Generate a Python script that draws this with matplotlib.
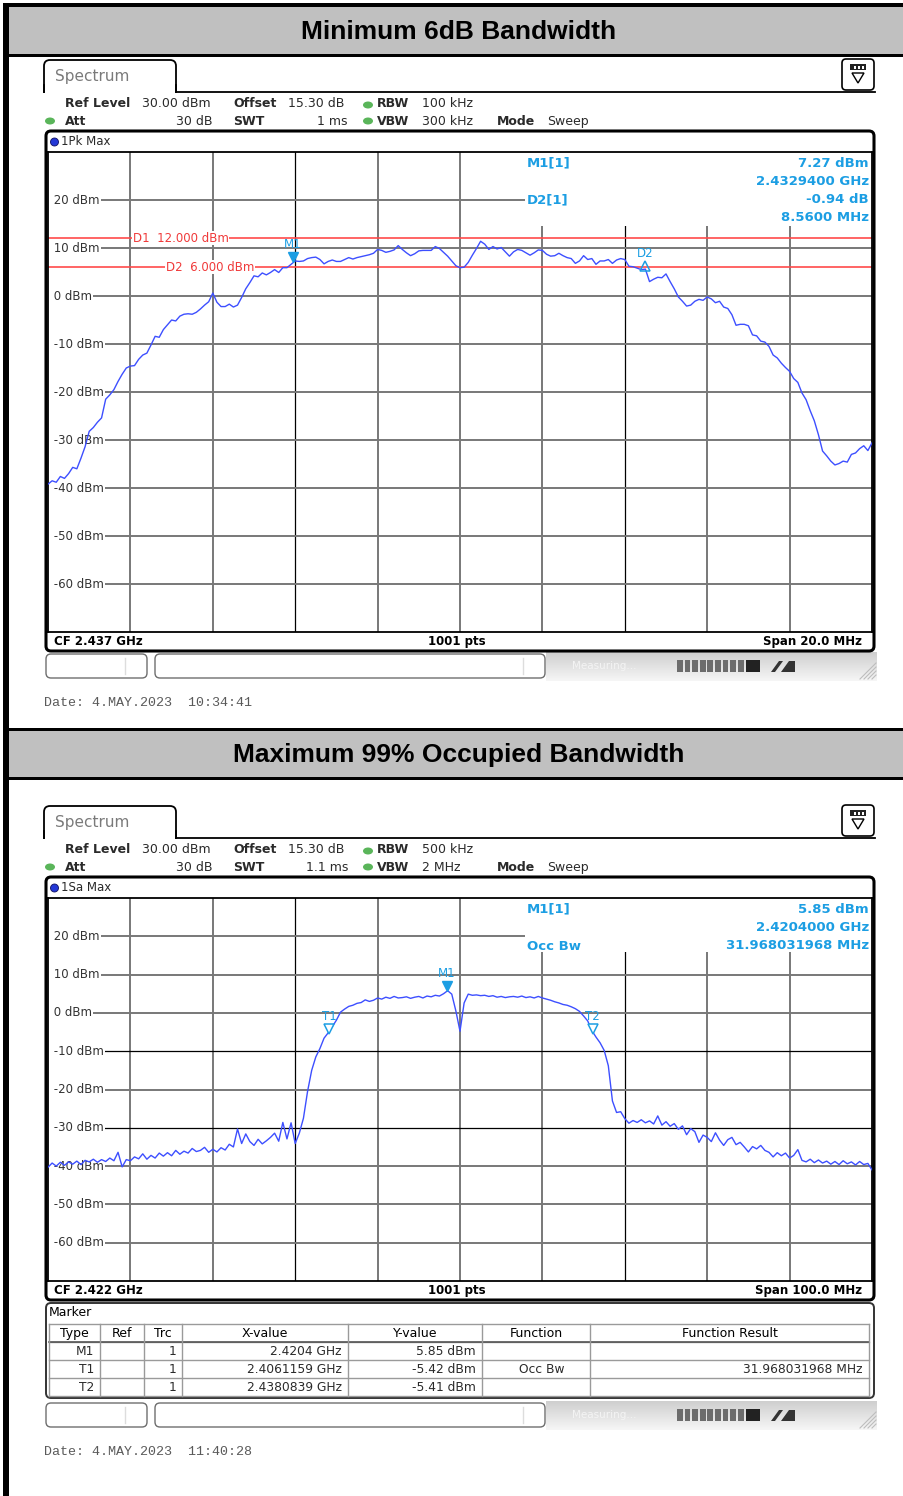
import numpy as np
import matplotlib
matplotlib.use("Agg")
import matplotlib.pyplot as plt
from matplotlib.patches import Rectangle, FancyBboxPatch, Ellipse, Polygon
from matplotlib.colors import LinearSegmentedColormap
from matplotlib.transforms import offset_copy, blended_transform_factory

# =============================================================================
# DATA
# =============================================================================

TITLES = ["Minimum 6dB Bandwidth", "Maximum 99% Occupied Bandwidth"]
Y_TICKS = [20, 10, 0, -10, -20, -30, -40, -50, -60]
REF_LEVEL = 30
BOTTOM_LEVEL = -70

# plot 1: CF 2.437 GHz, span 20 MHz, trace levels every 0.1 MHz
SPAN1_MHZ = 20.0
TRACE1_DBM = [
    -39.2, -38.5, -38.8, -37.6, -38.0, -37.0, -35.7, -36.0, -33.8, -31.4,
    -28.2, -27.4, -26.3, -25.4, -21.5, -20.6, -19.5, -17.8, -16.3, -15.0,
    -14.6, -14.5, -13.2, -12.3, -11.9, -10.2, -8.4, -8.6, -7.0, -6.0,
    -5.0, -5.2, -4.2, -3.8, -3.7, -3.8, -3.4, -2.7, -1.9, -1.2,
    0.6, -1.3, -2.2, -2.2, -1.7, -2.3, -1.9, -0.3, 1.5, 2.8,
    4.2, 4.0, 4.8, 4.4, 4.9, 5.5, 4.9, 5.9, 5.9, 6.6,
    7.3, 7.2, 7.3, 7.8, 8.0, 8.1, 7.6, 6.7, 7.2, 7.5,
    7.2, 7.2, 7.6, 8.0, 7.7, 8.0, 8.2, 8.4, 8.6, 8.9,
    9.7, 9.5, 9.1, 9.3, 9.6, 10.5, 9.7, 9.0, 8.4, 8.8,
    9.4, 9.5, 9.5, 9.5, 10.3, 9.9, 9.1, 8.3, 7.3, 6.3,
    5.9, 6.0, 7.0, 8.5, 9.9, 11.4, 10.8, 9.7, 10.3, 9.8,
    10.1, 9.2, 8.3, 9.2, 9.7, 9.5, 9.0, 8.5, 9.0, 9.6,
    9.5, 8.7, 8.3, 8.4, 8.9, 8.4, 8.0, 7.8, 6.8, 7.3,
    8.4, 7.6, 7.8, 6.6, 7.3, 7.3, 7.6, 6.8, 7.5, 7.8,
    7.6, 6.2, 6.1, 5.8, 5.5, 5.6, 3.0, 3.5, 3.9, 3.8,
    4.6, 3.0, 1.5, -0.2, -1.1, -2.1, -1.9, -1.1, -0.7, -0.9,
    -0.2, -0.6, -1.4, -1.1, -2.3, -2.6, -3.9, -6.1, -5.9, -5.9,
    -6.2, -8.1, -8.3, -9.4, -9.6, -10.5, -12.3, -12.9, -14.0, -14.9,
    -15.7, -17.2, -18.0, -20.2, -21.6, -23.9, -26.0, -28.9, -32.3, -33.3,
    -34.4, -35.2, -34.9, -34.4, -34.6, -33.0, -32.7, -31.8, -31.2, -32.2,
    -30.6,
]

# plot 2: CF 2.422 GHz, span 100 MHz, trace levels every 0.5 MHz
SPAN2_MHZ = 100.0
TRACE2_DBM = [
    -40.3, -39.2, -40.0, -39.0, -39.8, -38.9, -39.5, -38.7, -39.6, -38.5,
    -38.9, -38.2, -39.0, -38.3, -38.8, -37.9, -38.6, -36.4, -40.2, -38.3,
    -38.6, -37.6, -38.1, -36.8, -38.2, -37.2, -37.9, -36.6, -37.4, -36.5,
    -37.3, -35.9, -36.9, -36.1, -36.6, -35.4, -36.2, -35.9, -35.1, -36.4,
    -35.6, -36.3, -35.2, -35.8, -34.3, -35.0, -30.3, -34.1, -31.6, -33.6,
    -34.6, -33.0, -34.2, -33.4, -32.5, -31.4, -33.5, -28.6, -32.9, -28.7,
    -34.1, -31.4, -27.5, -20.5, -15.0, -11.5, -9.3, -6.6, -5.2, -3.6,
    -1.9, 0.2, 1.0, 1.7, 2.0, 2.5, 2.7, 3.4, 3.0, 3.3,
    3.9, 3.6, 4.1, 3.8, 4.3, 3.9, 4.0, 4.2, 3.8, 4.1,
    4.3, 3.9, 4.4, 4.2, 4.6, 4.4, 5.0, 5.8, 4.9, 0.5,
    -4.8, 2.6, 4.9, 4.6, 4.7, 4.5, 4.6, 4.3, 4.5, 4.1,
    4.3, 4.0, 4.2, 4.3, 4.1, 4.4, 4.0, 4.2, 3.9, 4.3,
    3.9, 3.6, 3.3, 2.9, 2.6, 2.2, 2.0, 1.6, 1.1, 0.4,
    -0.8, -2.1, -4.6, -6.3, -7.8, -9.8, -13.8, -23.0, -26.0, -25.8,
    -27.6, -28.8, -28.1, -28.6, -27.9, -28.7, -28.2, -29.0, -26.9, -29.3,
    -28.4, -29.6, -28.9, -30.4, -29.5, -31.8, -30.2, -31.0, -33.8, -31.9,
    -32.5, -33.6, -31.3, -33.2, -34.6, -33.1, -32.5, -34.4, -33.8, -35.0,
    -36.3, -34.9, -35.5, -34.6, -35.9, -36.4, -37.6, -36.5, -37.3, -36.6,
    -37.9, -37.2, -35.7, -38.5, -38.9, -38.2, -39.1, -38.4, -39.2, -38.7,
    -39.5, -38.8, -39.6, -38.6, -39.4, -38.9, -39.7, -38.8, -39.6, -39.3,
    -41.0,
]

# display lines of plot 1: (name, level dBm, label start in MHz from span start)
DISPLAY_LINES = [("D1", 12.0, 2.06), ("D2", 6.0, 2.86)]

# markers: (label, MHz from span start, level dBm, style)
MARKERS1 = [("M1", 5.94, 7.27, "v"), ("D2", 14.50, 6.33, "^")]
MARKERS2 = [("M1", 48.40, 5.85, "v"), ("T1", 34.1159, -5.42, "hv"), ("T2", 66.0839, -5.41, "hv")]

INFO1_LEFT = ["M1[1]", "", "D2[1]"]
INFO1_RIGHT = ["7.27 dBm", "2.4329400 GHz", "-0.94 dB", "8.5600 MHz"]
INFO2_LEFT = ["M1[1]", "", "Occ Bw"]
INFO2_RIGHT = ["5.85 dBm", "2.4204000 GHz", "31.968031968 MHz"]

PARAMS1 = {"rbw": "100 kHz", "swt": "1 ms", "vbw": "300 kHz", "trace": "1Pk Max",
           "cf": "CF 2.437 GHz", "span": "Span 20.0 MHz", "date": "Date: 4.MAY.2023  10:34:41"}
PARAMS2 = {"rbw": "500 kHz", "swt": "1.1 ms", "vbw": "2 MHz", "trace": "1Sa Max",
           "cf": "CF 2.422 GHz", "span": "Span 100.0 MHz", "date": "Date: 4.MAY.2023  11:40:28"}

TABLE_HEADER = ["Type", "Ref", "Trc", "X-value", "Y-value", "Function", "Function Result"]
TABLE_ROWS = [
    ["M1", "", "1", "2.4204 GHz", "5.85 dBm", "", ""],
    ["T1", "", "1", "2.4061159 GHz", "-5.42 dBm", "Occ Bw", "31.968031968 MHz"],
    ["T2", "", "1", "2.4380839 GHz", "-5.41 dBm", "", ""],
]

# =============================================================================
# STYLE
# =============================================================================

W, H = 904, 1496
TRACE_BLUE = "#3d4fff"
MARKER_BLUE = "#1c9ee3"
LINE_RED = "#ff4a4a"
GRID_GRAY = "#787878"
TEXT_DARK = "#2a2a2a"
GREEN = "#5ab55a"

fig = plt.figure(figsize=(W / 100, H / 100), dpi=100)
bg = fig.add_axes([0, 0, 1, 1])
bg.axis("off")

# overlay for text above the trace areas
ov = fig.add_axes([0, 0, 1, 1])
ov.patch.set_alpha(0)
ov.axis("off")
ov.set_xlim(0, W)
ov.set_ylim(H, 0)
ov.set_zorder(10)


def txt(ax, x, y, s, **kw):
    kw.setdefault("fontsize", 9)
    kw.setdefault("color", TEXT_DARK)
    kw.setdefault("va", "center")
    ax.text(x, y, s, **kw)


def rbox(ax, x0, y0, x1, y1, r=5, **kw):
    ax.add_patch(FancyBboxPatch((x0, y0), x1 - x0, y1 - y0,
                                boxstyle=f"round,pad=0,rounding_size={r}", **kw))


# =============================================================================
# PAGE FRAME AND TITLE BANDS
# =============================================================================

def draw_band(y0, y1, title):
    bg.add_patch(Rectangle((9, y0), W - 9, y1 - y0, fc="#c0c0c0", ec="none"))
    bg.add_patch(Rectangle((3, y1), W - 3, 3, fc="black", ec="none"))
    txt(bg, 459, (y0 + y1) / 2 + 1, title, ha="center", fontsize=19,
        fontweight="bold", family="Liberation Sans", color="black")


bg.add_patch(Rectangle((3, 3), W - 3, 4, fc="black", ec="none"))
bg.add_patch(Rectangle((3, 3), 6, H - 3, fc="black", ec="none"))
draw_band(7, 54, TITLES[0])
bg.add_patch(Rectangle((3, 728), W - 3, 3, fc="black", ec="none"))
draw_band(731, 777, TITLES[1])


# =============================================================================
# ONE ANALYZER SCREEN
# =============================================================================

def draw_header(base, p):
    # Spectrum tab + line
    rbox(bg, 44, 60 + base, 176, 100 + base, r=6, fc="white", ec="black", lw=1.3)
    bg.add_patch(Rectangle((42, 93 + base), 140, 10, fc="white", ec="none", zorder=2))
    bg.plot([176, 875], [92 + base, 92 + base], color="black", lw=1.3, zorder=3)
    bg.plot([44, 44], [85 + base, 92 + base], color="black", lw=1.3, zorder=3)
    bg.plot([176, 176], [85 + base, 92 + base], color="black", lw=1.3, zorder=3)
    txt(bg, 55, 76 + base, "Spectrum", fontsize=11, color="#7a7a7a")
    # menu icon
    rbox(bg, 842, 59 + base, 874, 90 + base, r=4, fc="white", ec="black", lw=1.2)
    bg.add_patch(Rectangle((850, 64 + base), 16, 6, fc="#222222", ec="none"))
    for xx in (854, 858, 862):
        bg.add_patch(Rectangle((xx, 66 + base), 1.6, 2.5, fc="white", ec="none"))
    bg.add_patch(Polygon([[852, 73 + base], [864, 73 + base], [858, 83 + base]],
                         fc="white", ec="black", lw=1))
    # parameter rows
    r1, r2 = 103 + base, 121 + base
    txt(bg, 65, r1, "Ref Level", fontweight="bold")
    txt(bg, 142, r1, "30.00 dBm")
    txt(bg, 233, r1, "Offset", fontweight="bold")
    txt(bg, 288, r1, "15.30 dB")
    txt(bg, 65, r2, "Att", fontweight="bold")
    txt(bg, 213, r2, "30 dB", ha="right")
    txt(bg, 233, r2, "SWT", fontweight="bold")
    txt(bg, 348, r2, p["swt"], ha="right")
    for yy in (r1 + 2, r2):
        bg.add_patch(Ellipse((368, yy), 10, 7, fc=GREEN, ec="none"))
    bg.add_patch(Ellipse((50, r2), 10, 7, fc=GREEN, ec="none"))
    txt(bg, 377, r1, "RBW", fontweight="bold")
    txt(bg, 422, r1, p["rbw"])
    txt(bg, 377, r2, "VBW", fontweight="bold")
    txt(bg, 422, r2, p["vbw"])
    txt(bg, 497, r2, "Mode", fontweight="bold")
    txt(bg, 547, r2, "Sweep")


def draw_screen(base, grid_h, span, dbm, markers, info_left, info_right, p,
                dark_v, dark_h, info_h, lines=()):
    draw_header(base, p)
    gtop = 152 + base
    gbot = gtop + grid_h
    fbot = gbot + 19
    rbox(bg, 46, 131 + base, 874, fbot, r=5, fc="white", ec="black", lw=2.2)
    bg.add_patch(Ellipse((54.5, 142 + base), 8, 8, fc="#2438d6", ec="#101060", lw=0.6))
    txt(bg, 61, 141 + base, p["trace"], fontsize=8.5)
    txt(bg, 54, gbot + 9.5, p["cf"], fontsize=8.5, fontweight="bold", color="black")
    txt(bg, 457, gbot + 9.5, "1001 pts", fontsize=8.5, fontweight="bold", ha="center", color="black")
    txt(bg, 862, gbot + 9.5, p["span"], fontsize=8.5, fontweight="bold", ha="right", color="black")

    ax = fig.add_axes([48 / W, 1 - gbot / H, 824 / W, grid_h / H])
    ax.set_xlim(0, span)
    ax.set_ylim(BOTTOM_LEVEL, REF_LEVEL)
    ax.set_xticks([])
    ax.set_yticks([])
    for s in ax.spines.values():
        s.set_linewidth(1.3)

    for k in range(1, 10):
        if k in dark_v:
            ax.axvline(span * k / 10, color="black", lw=0.9, zorder=1)
        else:
            ax.axvline(span * k / 10, color=GRID_GRAY, lw=1.4, zorder=1)
    for lvl in Y_TICKS:
        if lvl in dark_h:
            ax.axhline(lvl, color="black", lw=0.9, zorder=1)
        else:
            ax.axhline(lvl, color=GRID_GRAY, lw=1.4, zorder=1)

    # white marker-info area in the top right corner
    ax.add_patch(Rectangle(((525 - 48) / 824, 1 - info_h / grid_h), 1, info_h / grid_h,
                           transform=ax.transAxes, fc="white", ec="none", zorder=1.5))

    tr = blended_transform_factory(ax.transAxes, ax.transData)
    for lvl in Y_TICKS:
        ax.text(0.002, lvl, f" {lvl} dBm", transform=tr, fontsize=8.5, color="#333333",
                va="center", ha="left", zorder=2.2,
                bbox=dict(boxstyle="square,pad=0.12", fc="white", ec="none"))

    for name, lvl, lx in lines:
        ax.axhline(lvl, color=LINE_RED, lw=1.2, zorder=2)
        ax.text(lx, lvl, f"{name}  {lvl:.3f} dBm", fontsize=8.5, color="#f03a3a",
                va="center", ha="left", zorder=2.4,
                bbox=dict(boxstyle="square,pad=0.05", fc="white", ec="none"))

    freqs = np.linspace(0, span, len(dbm))
    ax.plot(freqs, dbm, color=TRACE_BLUE, lw=1.0, zorder=3)

    tri = offset_copy(ax.transData, fig=fig, x=0, y=3.2, units="points")
    for label, f, lvl, style in markers:
        if style == "v":
            ax.plot([f], [lvl], marker="v", ms=7, color=MARKER_BLUE, transform=tri, zorder=4)
            dy = 12
        elif style == "hv":
            ax.plot([f], [lvl], marker="v", ms=6.5, mfc="white", mec=MARKER_BLUE, mew=1.1,
                    transform=tri, zorder=4)
            dy = 12
        else:
            ax.plot([f], [lvl], marker="^", ms=6.5, mfc="none", mec=MARKER_BLUE, mew=1.1, zorder=4)
            dy = 9
        ax.annotate(label, (f, lvl), xytext=(0, dy), textcoords="offset points",
                    ha="center", va="center", color=MARKER_BLUE, fontsize=8.5, zorder=4)

    # marker info text, drawn on the overlay so it sits above the grid axes
    for i, s in enumerate(info_left):
        if s:
            txt(ov, 527, gtop + 11 + i * 18.5, s, fontsize=9.5, fontweight="bold", color=MARKER_BLUE)
    for i, s in enumerate(info_right):
        txt(ov, 869, gtop + 11 + i * 18.3, s, fontsize=9.5, fontweight="bold",
            color=MARKER_BLUE, ha="right")
    return fbot


def draw_status(y, date):
    rbox(bg, 46, y, 147, y + 24, r=5, fc="white", ec="#6e6e6e", lw=1)
    bg.plot([125, 125], [y + 4, y + 20], color="#dddddd", lw=1)
    rbox(bg, 155, y, 545, y + 24, r=5, fc="white", ec="#6e6e6e", lw=1)
    bg.plot([523, 523], [y + 4, y + 20], color="#dddddd", lw=1)
    grad = np.linspace(0, 1, 40).reshape(-1, 1)
    cmap = LinearSegmentedColormap.from_list("bar", ["#cfcfcf", "#f6f6f6"])
    bg.imshow(grad, extent=(546, 877, y + 27, y - 2), cmap=cmap, aspect="auto", zorder=0.5)
    txt(bg, 572, y + 12, "Measuring...", fontsize=7.5, color="#f4f4f4")
    for k in range(9):
        bg.add_patch(Rectangle((677 + k * 7.6, y + 6), 5.8, 12, fc="#6c6c6c", ec="none"))
    bg.add_patch(Rectangle((746, y + 6), 14, 12, fc="#222222", ec="none"))
    bg.add_patch(Polygon([[771, y + 18], [779, y + 7], [783, y + 7], [775, y + 18]], fc="#333333", ec="none"))
    bg.add_patch(Polygon([[781, y + 18], [789, y + 7], [795, y + 7], [795, y + 18]], fc="#333333", ec="none"))
    for k in range(4):
        bg.plot([860 + k * 4, 876], [y + 25, y + 9 + k * 4], color="#bdbdbd", lw=0.8)
    txt(bg, 44, y + 49, date, fontsize=9.6, family="Liberation Mono", color="#5a5a5a")


def draw_table(y0):
    rbox(bg, 46, y0, 874, y0 + 95, r=5, fc="white", ec="#333333", lw=1.4)
    txt(bg, 49, y0 + 10, "Marker", fontsize=9, color="black")
    cols = [49, 100, 144, 182, 348, 482, 590, 869]
    top = y0 + 21
    for yy in (top, top + 18, top + 36, top + 54, top + 72):
        bg.plot([cols[0], cols[-1]], [yy, yy], color="#9a9a9a", lw=1)
    bg.plot([cols[0], cols[-1]], [top + 18, top + 18], color="#555555", lw=1.2)
    for xx in cols:
        bg.plot([xx, xx], [top, top + 72], color="#9a9a9a", lw=1)
    for j, h in enumerate(TABLE_HEADER):
        txt(bg, (cols[j] + cols[j + 1]) / 2, top + 9.5, h, fontsize=9, ha="center", color="black")
    for i, row in enumerate(TABLE_ROWS):
        yy = top + 27.5 + i * 18
        for j, s in enumerate(row):
            if not s:
                continue
            if j == 5:
                txt(bg, 542, yy, s, fontsize=8.8, ha="center")
            else:
                txt(bg, cols[j + 1] - 6, yy, s, fontsize=8.8, ha="right")


# =============================================================================
# BUILD
# =============================================================================

fbot1 = draw_screen(0, 480, SPAN1_MHZ, TRACE1_DBM, MARKERS1, INFO1_LEFT, INFO1_RIGHT,
                    PARAMS1, dark_v=(3, 7), dark_h=(), info_h=74, lines=DISPLAY_LINES)
draw_status(fbot1 + 3, PARAMS1["date"])

fbot2 = draw_screen(746, 383, SPAN2_MHZ, TRACE2_DBM, MARKERS2, INFO2_LEFT, INFO2_RIGHT,
                    PARAMS2, dark_v=(3, 7), dark_h=(-10, -30), info_h=54)
draw_table(fbot2 + 3)
draw_status(fbot2 + 103, PARAMS2["date"])

bg.set_xlim(0, W)
bg.set_ylim(H, 0)
fig.savefig("out.png", dpi=100, facecolor="white")
